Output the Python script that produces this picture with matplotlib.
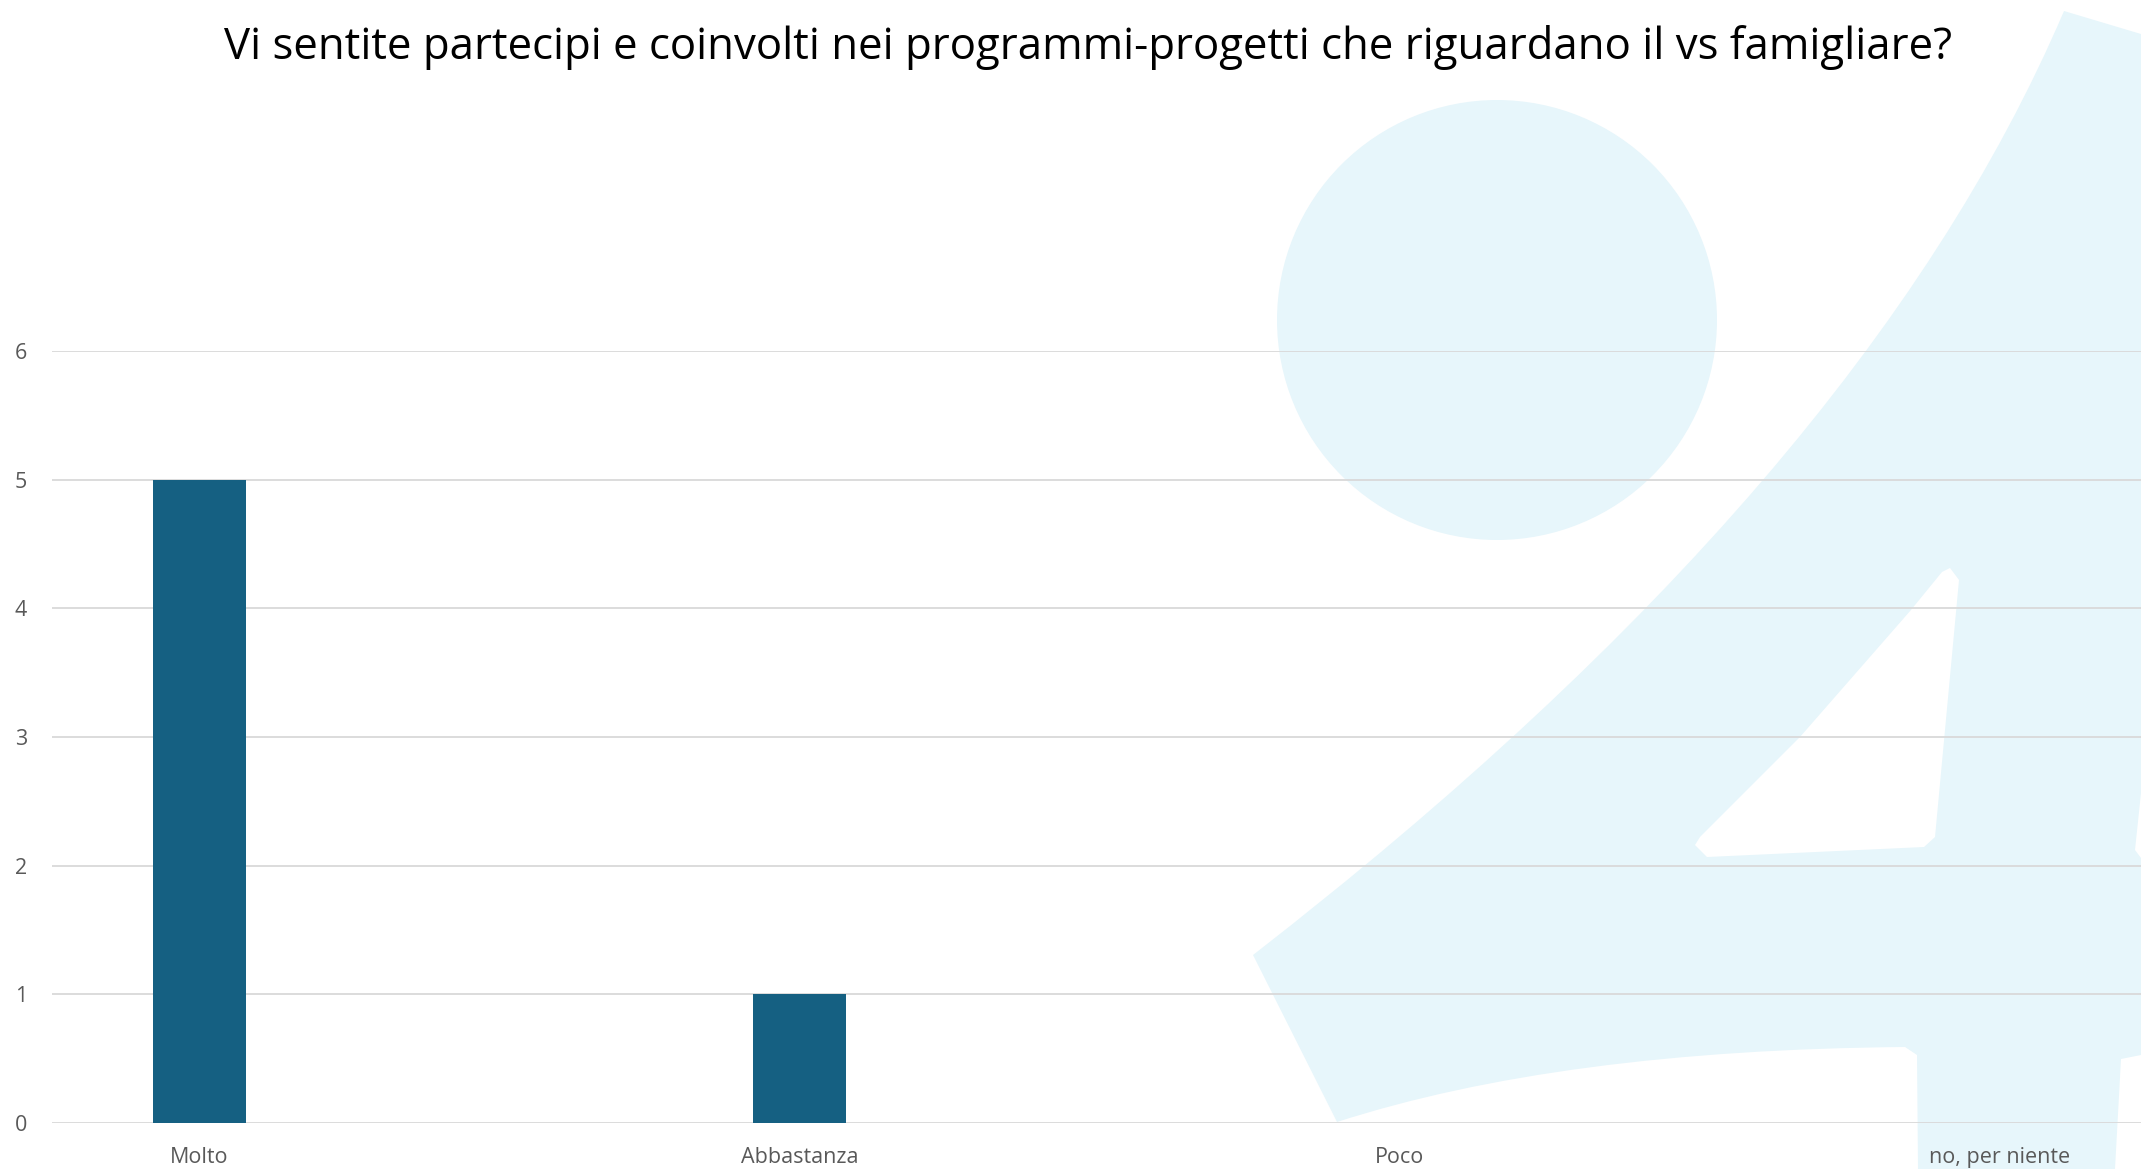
import numpy as np
import matplotlib.pyplot as plt
from matplotlib.patches import Polygon, Circle, PathPatch
from matplotlib.path import Path

categories = ['Molto', 'Abbastanza', 'Poco', 'no, per niente']
values = [5, 1, 0, 0]
y_ticks = [0, 1, 2, 3, 4, 5, 6]
title = 'Vi sentite partecipi e coinvolti nei programmi-progetti che riguardano il vs famigliare?'

W, H = 2141, 1169
plt.rcParams['font.family'] = ['Open Sans', 'DejaVu Sans']

fig = plt.figure(figsize=(W / 100, H / 100), dpi=100)

# background watermark, drawn in pixel coords (y down)
bg = fig.add_axes([0, 0, 1, 1], zorder=0)
bg.set_xlim(0, W)
bg.set_ylim(H, 0)
bg.axis('off')
wm = '#E7F6FB'
bg.add_patch(Circle((1497, 320), 220, color=wm, lw=0))
verts = [(2064, 11), (2141, 34), (2141, 793), (2135, 850), (2141, 858),
         (2141, 1055), (2121, 1059), (2115, 1169), (1918, 1169), (1917, 1055),
         (1905, 1047),
         (1560, 1050), (1337, 1122),          # curved bottom
         (1253, 955),
         (1863, 482), (2064, 11),             # curved diagonal
         (2064, 11)]
codes = ([Path.MOVETO] + [Path.LINETO] * 10 + [Path.CURVE3, Path.CURVE3]
         + [Path.LINETO] + [Path.CURVE3, Path.CURVE3] + [Path.CLOSEPOLY])
bg.add_patch(PathPatch(Path(verts, codes), color=wm, lw=0))
hole = [(1942, 572), (1950, 568), (1959, 580), (1935, 837), (1924, 847),
        (1707, 857), (1695, 845), (1700, 837), (1800, 737), (1911, 610)]
bg.add_patch(Polygon(hole, closed=True, color='white', lw=0))

ax = fig.add_axes([52 / W, 1 - 1123 / H, 1 - 52 / W, (1123 - 351) / H], zorder=1)
ax.set_facecolor('none')
x = np.arange(len(categories))
ax.bar(x, values, width=0.155, color='#156082', zorder=3)

ax.set_xlim(-0.245, 3.235)
ax.set_ylim(0, 6)
ax.set_yticks(y_ticks)
ax.set_xticks(x)
ax.set_xticklabels(categories)
ax.yaxis.grid(True, color='#D9D9D9', lw=1.3)
ax.set_axisbelow(True)
for s in ax.spines.values():
    s.set_visible(False)
ax.tick_params(axis='both', length=0, labelsize=15.5, labelcolor='#595959')
ax.tick_params(axis='y', pad=18)
ax.tick_params(axis='x', pad=17)

fig.text(1088 / W, 1 - 47 / H, title, ha='center', va='center', fontsize=31.5, color='black')

fig.savefig('out.png', dpi=100)
